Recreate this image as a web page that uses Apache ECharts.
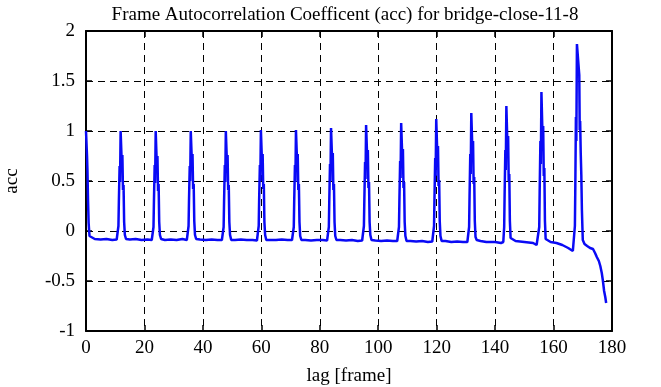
<!DOCTYPE html>
<html>
<head>
<meta charset="utf-8">
<script src="https://cdn.jsdelivr.net/npm/echarts@6/dist/echarts.min.js"></script>
<style>
  html, body { margin: 0; padding: 0; background: #fff; }
  #acc { width: 661px; height: 387px; }
</style>
</head>
<body>
<div id="acc"></div>
<script>
// ---------------- 数据：lag [frame] 与 acc ----------------
const xTicks = [0, 20, 40, 60, 80, 100, 120, 140, 160, 180]
const yTicks = [-1, -0.5, 0, 0.5, 1, 1.5, 2]

const lags = [
  0, 0.2, 0.35, 0.5, 0.7, 0.9, 1.2, 1.6, 3, 5, 7, 9, 10.5,
  // 12
  10.8, 11.1, 11.25, 11.5, 11.65, 11.85, 12.15, 12.3, 12.45, 12.65, 12.85, 13.05, 13.3, 13.7,
  15, 17, 19, 21, 22.5,
  // 24
  22.8, 23.1, 23.25, 23.5, 23.65, 23.85, 24.15, 24.3, 24.45, 24.65, 24.85, 25.05, 25.3, 25.7,
  27, 29, 31, 33, 34.5,
  // 36
  34.8, 35.1, 35.25, 35.5, 35.65, 35.85, 36.15, 36.3, 36.45, 36.65, 36.85, 37.05, 37.3, 37.7,
  39, 41, 43, 45, 46.5,
  // 48
  46.8, 47.1, 47.25, 47.5, 47.65, 47.85, 48.15, 48.3, 48.45, 48.65, 48.85, 49.05, 49.3, 49.7,
  51, 53, 55, 57, 58.5,
  // 60
  58.8, 59.1, 59.25, 59.5, 59.65, 59.85, 60.15, 60.3, 60.45, 60.65, 60.85, 61.05, 61.3, 61.7,
  63, 65, 67, 69, 70.5,
  // 72
  70.8, 71.1, 71.25, 71.5, 71.65, 71.85, 72.15, 72.3, 72.45, 72.65, 72.85, 73.05, 73.3, 73.7,
  75, 77, 79, 81, 82.5,
  // 84
  82.8, 83.1, 83.25, 83.5, 83.65, 83.85, 84.15, 84.3, 84.45, 84.65, 84.85, 85.05, 85.3, 85.7,
  87, 89, 91, 93, 94.5,
  // 96
  94.8, 95.1, 95.25, 95.5, 95.65, 95.85, 96.15, 96.3, 96.45, 96.65, 96.85, 97.05, 97.3, 97.7,
  99, 101, 103, 105, 106.5,
  // 108
  106.8, 107.1, 107.25, 107.5, 107.65, 107.85, 108.15, 108.3, 108.45, 108.65, 108.85, 109.05, 109.3, 109.7,
  111, 113, 115, 117, 118.5,
  // 120
  118.8, 119.1, 119.25, 119.5, 119.65, 119.85, 120.15, 120.3, 120.45, 120.65, 120.85, 121.05, 121.3, 121.7,
  123, 125, 127, 129, 130.5,
  // 132
  130.8, 131.1, 131.25, 131.5, 131.65, 131.85, 132.15, 132.3, 132.45, 132.65, 132.85, 133.05, 133.3, 133.7,
  135, 137, 140, 142, 142.5,
  // 144
  142.8, 143.1, 143.25, 143.5, 143.65, 143.85, 144.15, 144.3, 144.45, 144.65, 144.85, 145.05, 145.3, 145.7,
  147, 150, 153, 154.2, 154.5,
  // 156
  154.8, 155.1, 155.25, 155.5, 155.65, 155.85, 156.15, 156.3, 156.45, 156.65, 156.85, 157.05, 157.3, 157.7,
  159, 161, 163, 165, 166.6,
  // 168
  167.0, 167.3, 167.45, 167.65, 167.8, 168.0, 168.6, 168.8, 168.95, 169.1, 169.3, 169.5, 169.7, 170.0,
  170.6, 171.5, 172.5, 173.5, 174.2, 174.8, 175.5, 176, 176.5, 176.9, 177.3, 177.7, 178
]

const acc = [
  1.0, 0.98, 0.75, 0.6, 0.3, 0.08, -0.05, -0.07, -0.08, -0.085, -0.08, -0.09, -0.085,
  // 12
  -0.07, 0.05, 0.30, 0.65, 0.49, 1.0, 1.0, 0.62, 0.76, 0.41, 0.46, 0.09, -0.04, -0.08,
  -0.085, -0.08, -0.09, -0.085, -0.09,
  // 24
  -0.08, 0.04, 0.30, 0.66, 0.48, 1.0, 1.0, 0.60, 0.75, 0.40, 0.47, 0.09, -0.04, -0.08,
  -0.09, -0.085, -0.09, -0.08, -0.09,
  // 36
  -0.08, 0.05, 0.31, 0.65, 0.50, 1.0, 1.0, 0.63, 0.77, 0.42, 0.47, 0.10, -0.04, -0.08,
  -0.085, -0.09, -0.085, -0.09, -0.09,
  // 48
  -0.08, 0.04, 0.30, 0.66, 0.49, 1.0, 1.0, 0.62, 0.76, 0.41, 0.46, 0.09, -0.04, -0.09,
  -0.09, -0.085, -0.09, -0.09, -0.095,
  // 60
  -0.08, 0.05, 0.31, 0.66, 0.50, 1.01, 1.01, 0.62, 0.77, 0.42, 0.47, 0.09, -0.04, -0.09,
  -0.09, -0.09, -0.085, -0.09, -0.09,
  // 72
  -0.08, 0.04, 0.30, 0.66, 0.49, 1.01, 1.01, 0.63, 0.77, 0.41, 0.47, 0.09, -0.05, -0.09,
  -0.09, -0.095, -0.09, -0.09, -0.095,
  // 84
  -0.08, 0.04, 0.30, 0.67, 0.50, 1.03, 1.03, 0.64, 0.78, 0.41, 0.47, 0.09, -0.05, -0.09,
  -0.09, -0.095, -0.09, -0.1, -0.095,
  // 96
  -0.08, 0.05, 0.31, 0.69, 0.52, 1.06, 1.06, 0.66, 0.81, 0.43, 0.49, 0.09, -0.04, -0.09,
  -0.095, -0.1, -0.095, -0.1, -0.1,
  // 108
  -0.09, 0.04, 0.31, 0.70, 0.53, 1.08, 1.08, 0.67, 0.82, 0.43, 0.49, 0.09, -0.05, -0.1,
  -0.1, -0.105, -0.1, -0.11, -0.105,
  // 120
  -0.09, 0.05, 0.33, 0.73, 0.55, 1.12, 1.12, 0.69, 0.85, 0.45, 0.51, 0.10, -0.05, -0.1,
  -0.1, -0.11, -0.105, -0.11, -0.11,
  // 132
  -0.10, 0.04, 0.34, 0.77, 0.57, 1.18, 1.18, 0.73, 0.90, 0.47, 0.54, 0.10, -0.06, -0.09,
  -0.1, -0.11, -0.11, -0.12, -0.11,
  // 144
  -0.11, 0.04, 0.36, 0.81, 0.61, 1.25, 1.25, 0.77, 0.95, 0.50, 0.57, 0.10, -0.07, -0.09,
  -0.1, -0.11, -0.12, -0.14, -0.13,
  // 156
  -0.13, 0.04, 0.40, 0.90, 0.67, 1.39, 1.39, 0.85, 1.05, 0.55, 0.63, 0.10, -0.08, -0.09,
  -0.11, -0.12, -0.14, -0.17, -0.2,
  // 168
  -0.19, 0.05, 0.45, 1.14, 0.90, 1.87, 1.87, 1.56, 1.01, 1.10, 0.78, 0.56, 0.21, -0.09,
  -0.13, -0.15, -0.17, -0.18, -0.22, -0.26, -0.3, -0.35, -0.42, -0.5, -0.6, -0.66, -0.72
]

// ---------------- 折线图 ----------------
function accChart() {
  let myChart = echarts.init(document.querySelector('#acc'))
  const serif = 'Liberation Serif'
  const dash = [7, 5]

  let option = {
    animation: false,
    title: {
      text: 'Frame Autocorrelation Coefficent (acc) for bridge-close-11-8',
      left: 340,
      textAlign: 'center',
      top: 1,
      textStyle: { fontFamily: serif, fontSize: 19, fontWeight: 'normal', color: '#000' }
    },
    grid: { left: 86, right: 49, top: 31, bottom: 56, outerBoundsMode: 'none', containLabel: false },
    xAxis: [
      {
        type: 'value',
        min: 0,
        max: 180,
        interval: 20,
        name: 'lag [frame]',
        nameLocation: 'middle',
        nameGap: 36,
        nameTextStyle: { fontFamily: serif, fontSize: 19, color: '#000' },
        axisLine: { onZero: false, lineStyle: { color: '#000', width: 2 } },
        axisTick: { inside: true, length: 6, lineStyle: { color: '#000', width: 1.5 } },
        axisLabel: { fontFamily: serif, fontSize: 19, color: '#000', margin: 8 },
        splitLine: { show: true, lineStyle: { color: '#000', type: dash, width: 1 } }
      },
      {
        type: 'value',
        position: 'top',
        min: 0,
        max: 180,
        interval: 20,
        axisLine: { onZero: false, lineStyle: { color: '#000', width: 2 } },
        axisTick: { inside: true, length: 6, lineStyle: { color: '#000', width: 1.5 } },
        axisLabel: { show: false },
        splitLine: { show: false }
      }
    ],
    yAxis: [
      {
        type: 'value',
        min: -1,
        max: 2,
        interval: 0.5,
        name: 'acc',
        nameLocation: 'middle',
        nameGap: 64,
        nameRotate: 90,
        nameTextStyle: { fontFamily: serif, fontSize: 19, color: '#000' },
        axisLine: { show: true, onZero: false, lineStyle: { color: '#000', width: 2 } },
        axisTick: { show: true, inside: true, length: 6, lineStyle: { color: '#000', width: 1.5 } },
        axisLabel: { fontFamily: serif, fontSize: 19, color: '#000', margin: 11 },
        splitLine: { show: true, lineStyle: { color: '#000', type: dash, width: 1 } }
      },
      {
        type: 'value',
        position: 'right',
        min: -1,
        max: 2,
        interval: 0.5,
        axisLine: { show: true, onZero: false, lineStyle: { color: '#000', width: 2 } },
        axisTick: { show: true, inside: true, length: 6, lineStyle: { color: '#000', width: 1.5 } },
        axisLabel: { show: false },
        splitLine: { show: false }
      }
    ],
    series: [
      {
        type: 'line',
        data: lags.map((x, i) => [x, acc[i]]),
        showSymbol: false,
        clip: true,
        lineStyle: { color: '#0a0af5', width: 2.5 }
      }
    ]
  }
  myChart.setOption(option)
}

accChart()
</script>
</body>
</html>
